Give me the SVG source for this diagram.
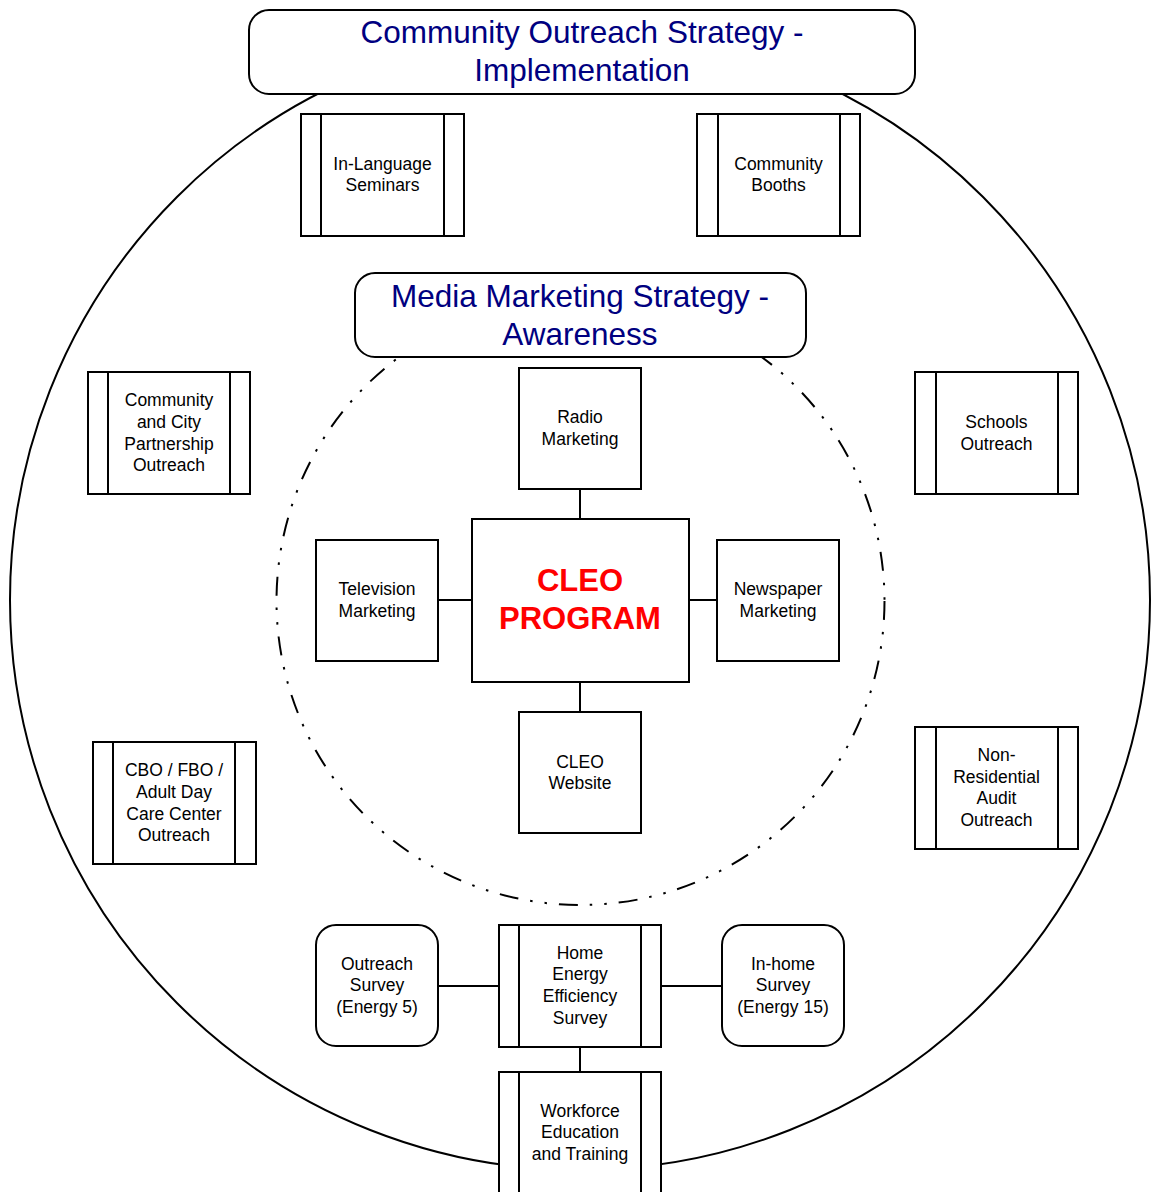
<svg xmlns="http://www.w3.org/2000/svg" width="1152" height="1192" viewBox="0 0 1152 1192">
<style>
.ln{fill:none;stroke:#000;stroke-width:2}
.bx{fill:#fff;stroke:#000;stroke-width:2}
.t{font-family:"Liberation Sans",Arial,sans-serif;font-size:17.5px;fill:#000;text-anchor:middle}
.ti{font-family:"Liberation Sans",Arial,sans-serif;font-size:31.5px;fill:#000080;text-anchor:middle}
.cl{font-family:"Liberation Sans",Arial,sans-serif;font-size:31px;font-weight:bold;fill:#ff0000;text-anchor:middle}
</style>
<rect width="1152" height="1192" fill="#fff"/>
<g id="outer-circle"><circle cx="580" cy="600" r="570" class="ln"/></g>
<g id="inner-circle"><circle cx="580.5" cy="601" r="304" class="ln" stroke-dasharray="19 12 2.5 12 2.5 12"/></g>
<g id="connectors" class="ln">
<line x1="580" y1="489" x2="580" y2="519"/>
<line x1="438" y1="600" x2="472" y2="600"/>
<line x1="689" y1="600" x2="717" y2="600"/>
<line x1="580" y1="682" x2="580" y2="712"/>
<line x1="438" y1="986" x2="499" y2="986"/>
<line x1="661" y1="986" x2="722" y2="986"/>
<line x1="580" y1="1047" x2="580" y2="1072"/>
</g>
<g id="title-community">
<rect x="249" y="10" width="666" height="84" rx="20" class="bx"/>
<text class="ti" x="582" y="43">Community Outreach Strategy -</text>
<text class="ti" x="582" y="81">Implementation</text>
</g>
<g id="title-media">
<rect x="355" y="273" width="451" height="84" rx="20" class="bx"/>
<text class="ti" x="580" y="307">Media Marketing Strategy -</text>
<text class="ti" x="580" y="345">Awareness</text>
</g>
<g id="in-language">
<rect x="301" y="114" width="163" height="122" class="bx"/>
<path d="M321 114V236M444 114V236" class="ln"/>
<text class="t" x="382.5" y="170">In-Language</text>
<text class="t" x="382.5" y="191">Seminars</text>
</g>
<g id="community-booths">
<rect x="697" y="114" width="163" height="122" class="bx"/>
<path d="M718 114V236M840 114V236" class="ln"/>
<text class="t" x="778.5" y="170">Community</text>
<text class="t" x="778.5" y="191">Booths</text>
</g>
<g id="community-city">
<rect x="88" y="372" width="162" height="122" class="bx"/>
<path d="M108 372V494M230 372V494" class="ln"/>
<text class="t" x="169" y="406">Community</text>
<text class="t" x="169" y="428">and City</text>
<text class="t" x="169" y="450">Partnership</text>
<text class="t" x="169" y="471">Outreach</text>
</g>
<g id="schools">
<rect x="915" y="372" width="163" height="122" class="bx"/>
<path d="M936 372V494M1058 372V494" class="ln"/>
<text class="t" x="996.5" y="428">Schools</text>
<text class="t" x="996.5" y="450">Outreach</text>
</g>
<g id="cbo-fbo">
<rect x="93" y="742" width="163" height="122" class="bx"/>
<path d="M113 742V864M235 742V864" class="ln"/>
<text class="t" x="174" y="776">CBO / FBO /</text>
<text class="t" x="174" y="798">Adult Day</text>
<text class="t" x="174" y="820">Care Center</text>
<text class="t" x="174" y="841">Outreach</text>
</g>
<g id="non-residential">
<rect x="915" y="727" width="163" height="122" class="bx"/>
<path d="M936 727V849M1058 727V849" class="ln"/>
<text class="t" x="996.5" y="761">Non-</text>
<text class="t" x="996.5" y="783">Residential</text>
<text class="t" x="996.5" y="804">Audit</text>
<text class="t" x="996.5" y="826">Outreach</text>
</g>
<g id="radio">
<rect x="519" y="368" width="122" height="121" class="bx"/>
<text class="t" x="580" y="423">Radio</text>
<text class="t" x="580" y="445">Marketing</text>
</g>
<g id="television">
<rect x="316" y="540" width="122" height="121" class="bx"/>
<text class="t" x="377" y="595">Television</text>
<text class="t" x="377" y="617">Marketing</text>
</g>
<g id="newspaper">
<rect x="717" y="540" width="122" height="121" class="bx"/>
<text class="t" x="778" y="595">Newspaper</text>
<text class="t" x="778" y="617">Marketing</text>
</g>
<g id="website">
<rect x="519" y="712" width="122" height="121" class="bx"/>
<text class="t" x="580" y="768">CLEO</text>
<text class="t" x="580" y="789">Website</text>
</g>
<g id="cleo-program">
<rect x="472" y="519" width="217" height="163" class="bx"/>
<text class="cl" x="580" y="591">CLEO</text>
<text class="cl" x="580" y="629">PROGRAM</text>
</g>
<g id="outreach-survey">
<rect x="316" y="925" width="122" height="121" rx="20" class="bx"/>
<text class="t" x="377" y="970">Outreach</text>
<text class="t" x="377" y="991">Survey</text>
<text class="t" x="377" y="1013">(Energy 5)</text>
</g>
<g id="home-energy">
<rect x="499" y="925" width="162" height="122" class="bx"/>
<path d="M519 925V1047M641 925V1047" class="ln"/>
<text class="t" x="580" y="959">Home</text>
<text class="t" x="580" y="980">Energy</text>
<text class="t" x="580" y="1002">Efficiency</text>
<text class="t" x="580" y="1024">Survey</text>
</g>
<g id="in-home-survey">
<rect x="722" y="925" width="122" height="121" rx="20" class="bx"/>
<text class="t" x="783" y="970">In-home</text>
<text class="t" x="783" y="991">Survey</text>
<text class="t" x="783" y="1013">(Energy 15)</text>
</g>
<g id="workforce">
<rect x="499" y="1072" width="162" height="140" class="bx"/>
<path d="M519 1072V1212M641 1072V1212" class="ln"/>
<text class="t" x="580" y="1117">Workforce</text>
<text class="t" x="580" y="1138">Education</text>
<text class="t" x="580" y="1160">and Training</text>
</g>
</svg>
